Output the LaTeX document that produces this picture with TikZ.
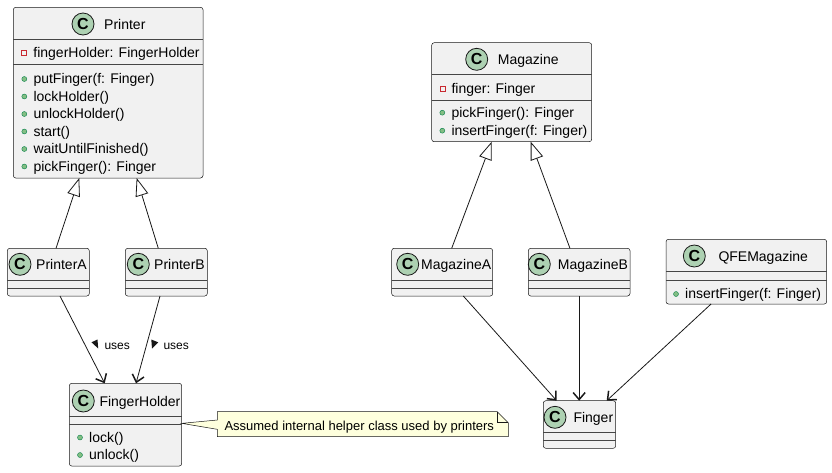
\documentclass[tikz,border=0pt]{standalone}
\usepackage{fontspec}
\setmainfont{Liberation Sans}
\usetikzlibrary{arrows.meta}
\definecolor{lineC}{HTML}{181818}
\definecolor{boxF}{HTML}{F1F1F1}
\definecolor{circF}{HTML}{ADD1B2}
\definecolor{noteF}{HTML}{FEFFDD}
\definecolor{privC}{HTML}{C82930}
\definecolor{pubF}{HTML}{84BE84}
\definecolor{pubD}{HTML}{038048}
\tikzset{
 cls/.style={draw=lineC, fill=boxF, rounded corners=2.5pt, line width=0.5pt, inner sep=0pt, outer sep=0pt, anchor=north west},
 circC/.style={circle, draw=lineC, fill=circF, line width=0.8pt, minimum size=22pt, inner sep=0pt, font=\fontsize{16}{16}\selectfont\bfseries},
 ttl/.style={anchor=base west, inner sep=0pt, font=\fontsize{14}{16}\selectfont},
 mem/.style={anchor=base west, inner sep=0pt, font=\fontsize{14}{16}\selectfont},
 sepline/.style={draw=lineC!80, line width=0.5pt},
 priv/.style={draw=privC, line width=0.6pt, rectangle, minimum size=5pt, inner sep=0pt},
 pub/.style={draw=pubD, fill=pubF, line width=0.4pt, circle, minimum size=5pt, inner sep=0pt},
 gen/.style={draw=lineC, line width=0.8pt, -{Triangle[open, length=18pt, width=13pt]}},
 dep/.style={draw=lineC, line width=0.8pt, -{Straight Barb[length=7pt, width=12pt, line width=1.5pt]}},
 lbl/.style={anchor=base west, inner sep=0pt, font=\fontsize{12}{14}\selectfont},
 notetext/.style={anchor=base west, inner sep=0pt, font=\fontsize{13}{15}\selectfont},
 noteshape/.style={draw=lineC, fill=noteF, line width=0.5pt},
}
\newcommand{\pubm}[4]{\node[pub] (#1-i) at (#2,#3) {}; \node[mem] (#1) at (#2+9,#3+4.5) {#4};}
\newcommand{\privm}[4]{\node[priv] (#1-i) at (#2,#3) {}; \node[mem] (#1) at (#2+9,#3+4.5) {#4};}
% name, x0, y0, w, h
\newcommand{\umlbox}[5]{\node[cls, minimum width=#4pt, minimum height=#5pt] (#1) at (#2,#3) {};}
% name, circle x, circle y, title x, title text
\newcommand{\umltitle}[5]{\node[circC] (#1-c) at (#2,#3) {C}; \node[ttl] (#1-t) at (#4,#3+5) {#5};}
\begin{document}
\begin{tikzpicture}[x=1pt,y=-1pt]
\useasboundingbox (0,0) rectangle (832,472);

% Printer
\umlbox{printer}{13.3}{7.3}{189.7}{170.7}
\umltitle{printer}{83}{24}{104}{Printer}
\draw[sepline] (13.3,39.3) -- (203,39.3);
\draw[sepline] (13.3,64.3) -- (203,64.3);
\privm{p-a1}{24.2}{52.7}{fingerHolder: FingerHolder}
\pubm{p-m1}{24.3}{79}{putFinger(f: Finger)}
\pubm{p-m2}{24.3}{96.5}{lockHolder()}
\pubm{p-m3}{24.3}{114}{unlockHolder()}
\pubm{p-m4}{24.3}{131.5}{start()}
\pubm{p-m5}{24.3}{149}{waitUntilFinished()}
\pubm{p-m6}{24.3}{166.5}{pickFinger(): Finger}

% PrinterA
\umlbox{pa}{7.3}{248.3}{82}{47.7}
\umltitle{pa}{20}{264.3}{36}{PrinterA}
\draw[sepline] (7.3,280.7) -- (89.3,280.7);
\draw[sepline] (7.3,288.3) -- (89.3,288.3);

% PrinterB
\umlbox{pb}{125.3}{248.3}{82}{47.7}
\umltitle{pb}{138.3}{264.3}{154}{PrinterB}
\draw[sepline] (125.3,280.7) -- (207.3,280.7);
\draw[sepline] (125.3,288.3) -- (207.3,288.3);

% FingerHolder
\umlbox{fh}{69.3}{383.3}{112.4}{82.7}
\umltitle{fh}{83.3}{401}{99.3}{FingerHolder}
\draw[sepline] (69.3,416) -- (181.7,416);
\draw[sepline] (69.3,424) -- (181.7,424);
\pubm{fh-m1}{80}{437.5}{lock()}
\pubm{fh-m2}{80}{455}{unlock()}

% Magazine
\umlbox{mag}{431.7}{42.7}{160}{99}
\umltitle{mag}{476.7}{59.3}{497.7}{Magazine}
\draw[sepline] (431.7,74.3) -- (591.7,74.3);
\draw[sepline] (431.7,100) -- (591.7,100);
\privm{m-a1}{442.3}{89}{finger: Finger}
\pubm{m-m1}{442.3}{112.7}{pickFinger(): Finger}
\pubm{m-m2}{442.3}{130.7}{insertFinger(f: Finger)}

% MagazineA
\umlbox{ma}{391.7}{248.3}{101}{47.7}
\umltitle{ma}{407.7}{264.3}{421}{MagazineA}
\draw[sepline] (391.7,280.7) -- (492.7,280.7);
\draw[sepline] (391.7,288.3) -- (492.7,288.3);

% MagazineB
\umlbox{mb}{528.3}{248.3}{101.7}{47.7}
\umltitle{mb}{539.3}{264.3}{557.7}{MagazineB}
\draw[sepline] (528.3,280.7) -- (630,280.7);
\draw[sepline] (528.3,288.3) -- (630,288.3);

% QFEMagazine
\umlbox{qfe}{666}{239.3}{160.7}{64.7}
\umltitle{qfe}{694.3}{256}{718.3}{QFEMagazine}
\draw[sepline] (666,271.7) -- (826.7,271.7);
\draw[sepline] (666,280) -- (826.7,280);
\pubm{q-m1}{676}{294}{insertFinger(f: Finger)}

% Finger
\umlbox{fin}{543.3}{400.7}{72.4}{47.6}
\umltitle{fin}{555}{417.3}{573.3}{Finger}
\draw[sepline] (543.3,432.7) -- (615.7,432.7);
\draw[sepline] (543.3,440) -- (615.7,440);

% Note
\draw[noteshape] (217.3,411.7) -- (497.3,411.7) -- (508.3,422.7) -- (508.3,436.7) -- (217.3,436.7) -- (217.3,429.3) -- ([yshift=1.3pt]fh.east) -- (217.3,420) -- cycle;
\draw[noteshape, fill=none] (497.3,411.7) -- (497.3,422.7) -- (508.3,422.7);
\node[notetext] (note) at (224.3,430.7) {Assumed internal helper class used by printers};

% Connectors
\draw[gen] ([xshift=7.7pt]pa.north) -- ([xshift=-28.9pt]printer.south);
\draw[gen] ([xshift=-8pt]pb.north) -- ([xshift=28.5pt]printer.south);
\draw[dep] ([xshift=11.7pt]pa.south) -- ([xshift=-20.8pt]fh.north);
\draw[dep] ([xshift=-6.3pt]pb.south) -- ([xshift=10.5pt]fh.north);
\draw[gen] ([xshift=9.5pt]ma.north) -- ([xshift=-20pt]mag.south);
\draw[gen] ([xshift=-9.2pt]mb.north) -- ([xshift=19pt]mag.south);
\draw[dep] ([xshift=21.1pt]ma.south) -- ([xshift=-22.8pt]fin.north);
\draw[dep] (mb.south) -- (mb.south |- fin.north);
\draw[dep] ([xshift=-35.3pt]qfe.south) -- ([xshift=27.2pt]fin.north);

% uses labels
\fill[lineC] (97.5,339.5) -- (98.2,348.5) -- (91.5,342.3) -- cycle;
\node[lbl] (uses1) at (104.3,349.3) {uses};
\fill[lineC] (151.3,339.5) -- (158.2,342.3) -- (152,348.5) -- cycle;
\node[lbl] (uses2) at (163.3,349.3) {uses};
\end{tikzpicture}
\end{document}
